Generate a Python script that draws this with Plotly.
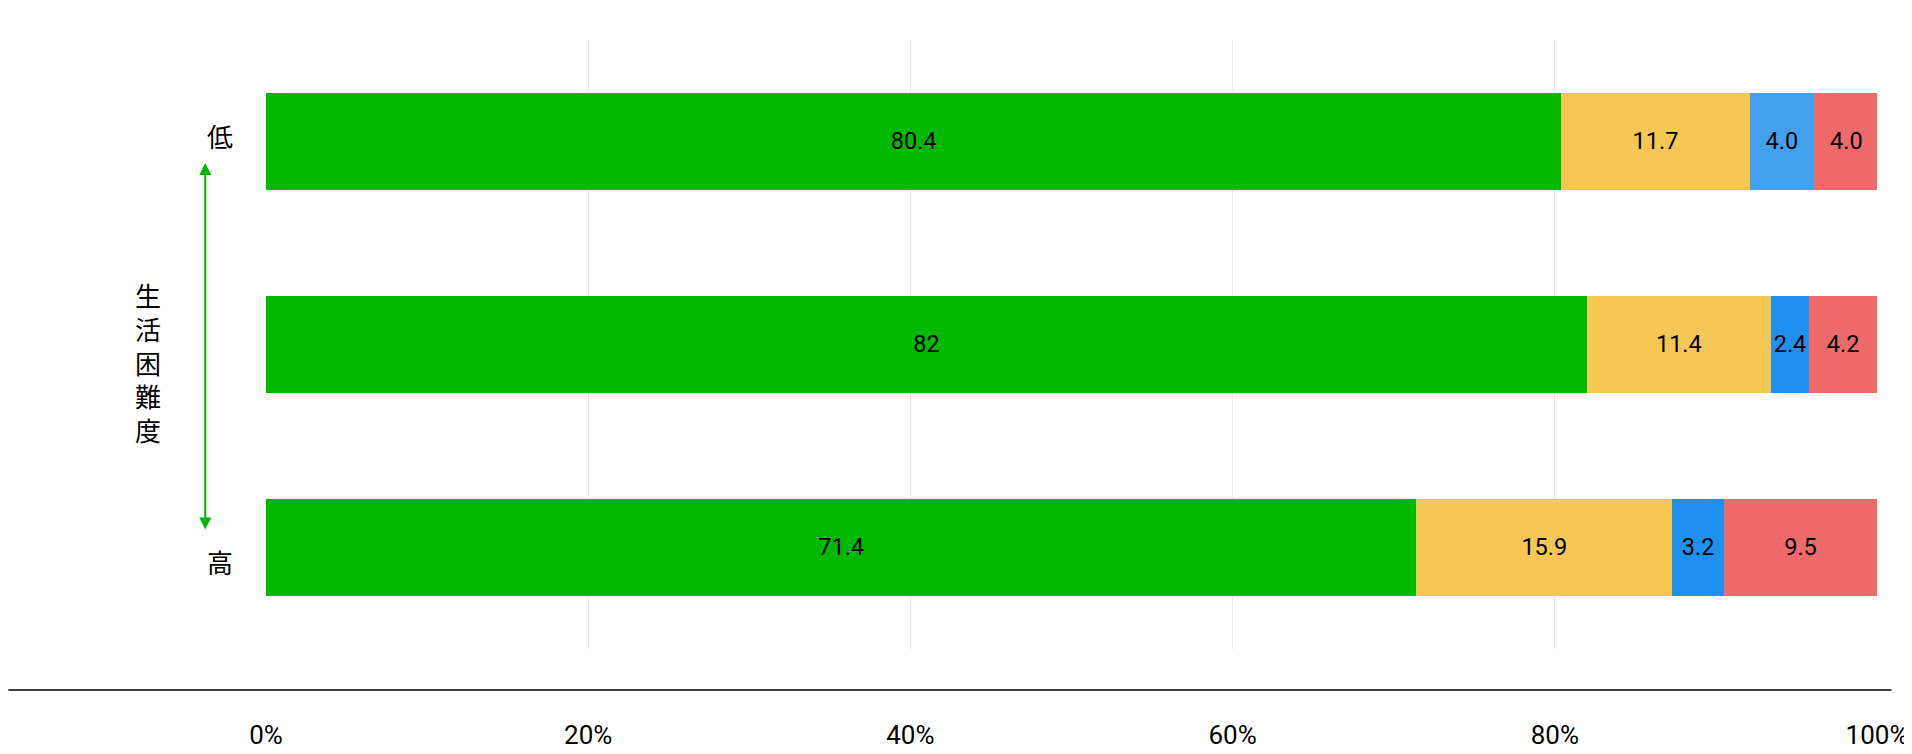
import plotly.graph_objects as go

categories = ["低", "中", "高"]
green_vals = [80.4, 82, 71.4]
yellow_vals = [11.7, 11.4, 15.9]
blue_vals = [4.0, 2.4, 3.2]
red_vals = [4.0, 4.2, 9.5]
green_text = ["80.4", "82", "71.4"]
yellow_text = ["11.7", "11.4", "15.9"]
blue_text = ["4.0", "2.4", "3.2"]
red_text = ["4.0", "4.2", "9.5"]
tick_vals = [0, 20, 40, 60, 80, 100]
tick_text = ["0%", "20%", "40%", "60%", "80%", "100%"]

fnt = "Roboto, 'Noto Sans CJK JP', sans-serif"
fig = go.Figure()
series = [
    (green_vals, green_text, "#00b800"),
    (yellow_vals, yellow_text, "#f5c754"),
    (blue_vals, blue_text, ["#42a0ec", "#1f90ee", "#1f90ee"]),
    (red_vals, red_text, "#ef6a6a"),
]
for vals, txt, col in series:
    fig.add_trace(go.Bar(
        y=categories, x=vals, orientation="h", marker=dict(color=col, line_width=0),
        text=txt, texttemplate="%{text}", textposition="inside", insidetextanchor="middle",
        textangle=0, textfont=dict(size=27, color="black", family=fnt),
        hoverinfo="skip", showlegend=False,
    ))

fig.update_layout(
    barmode="stack", bargap=0.52, width=1912, height=754,
    margin=dict(l=258, r=36, t=32, b=107),
    plot_bgcolor="white", paper_bgcolor="white",
    uniformtext=dict(minsize=10, mode="show"),
    xaxis=dict(range=[0, 100], tickvals=tick_vals, ticktext=tick_text, showgrid=True,
               gridcolor="#e8e8e8", gridwidth=1, zeroline=False, showline=False,
               tickfont=dict(size=26, color="black", family=fnt), ticklabelstandoff=68),
    yaxis=dict(autorange="reversed", showticklabels=False, showgrid=False, zeroline=False),
    font=dict(family=fnt),
)
fig.add_shape(type="line", xref="paper", yref="paper", x0=-0.16, x1=1.009, y0=-0.0675, y1=-0.0675,
              line=dict(color="black", width=1.5))
cjk = "'Noto Sans CJK JP', sans-serif"
fig.add_annotation(xref="paper", yref="paper", x=-0.0377, y=0.877, text="低", showarrow=False,
                   font=dict(size=26, color="black", family=cjk))
fig.add_annotation(xref="paper", yref="paper", x=-0.0377, y=0.11, text="高", showarrow=False,
                   font=dict(size=26, color="black", family=cjk))
fig.add_annotation(xref="paper", yref="paper", x=-0.0828, y=0.472, text="<br>".join("生活困難度"),
                   showarrow=False, font=dict(size=26, color="black", family=cjk))
fig.add_annotation(xref="paper", yref="paper", x=-0.0377, y=0.798, ax=0, ay=368, text="",
                   showarrow=True, arrowhead=2, startarrowhead=2, arrowside="end+start",
                   arrowsize=1.2, arrowwidth=2, arrowcolor="#00b800")
fig.write_html("out.html")
